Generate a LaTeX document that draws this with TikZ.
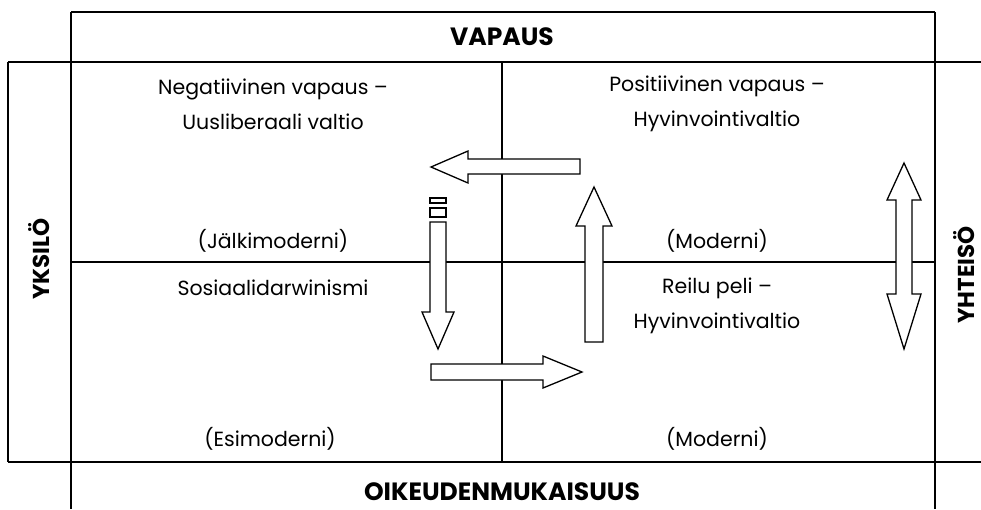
\documentclass[tikz,border=0pt]{standalone}
\usepackage{fontspec}
\setmainfont{Poppins}
\usetikzlibrary{positioning}

\tikzset{
  rule/.style={line width=1.8pt},
  blockarrow/.style={draw, fill=white, line width=1.3pt, line join=miter},
  celltext/.style={font=\fontsize{20.5}{35}\selectfont, align=center, inner sep=0pt},
  axistext/.style={font=\fontsize{25}{30}\selectfont\bfseries, inner sep=0pt},
  sidetext/.style={axistext, font=\fontsize{23}{28}\selectfont\bfseries, rotate=90}
}

\begin{document}
\begin{tikzpicture}[x=1pt,y=-1pt]
		\useasboundingbox (0,0) rectangle (981,509);
		% table frame
		\draw[rule] (71,12) -- (935,12);
		\draw[rule] (8,62) -- (981,62);
		\draw[rule] (8,462) -- (981,462);
		\draw[rule] (8,62) -- (8,462);
		\draw[rule] (71,12) -- (71,509);
		\draw[rule] (935,12) -- (935,509);
		\draw[rule] (502,62) -- (502,462);
		\draw[rule] (71,262) -- (935,262);
		% axis titles
		\node[axistext] (vapaus) at (502,37) {VAPAUS};
		\node[axistext] (oikeus) at (502,492) {OIKEUDENMUKAISUUS};
		\node[sidetext] (yksilo) at (39,259) {YKSILÖ};
		\node[sidetext] (yhteiso) at (964,275) {YHTEISÖ};
		% cell texts
		\node[celltext] (negvap) at (273,104) {Negatiivinen vapaus –\\Uusliberaali valtio};
		\node[celltext] (posvap) at (717,104) {Positiivinen vapaus –\\Hyvinvointivaltio};
		\node[celltext] (jalki) at (273,241) {(Jälkimoderni)};
		\node[celltext] (moderni1) at (717,241) {(Moderni)};
		\node[celltext] (sosdar) at (273,288) {Sosiaalidarwinismi};
		\node[celltext] (reilu) at (717,306) {Reilu peli –\\Hyvinvointivaltio};
		\node[celltext] (esimod) at (270,439) {(Esimoderni)};
		\node[celltext] (moderni2) at (717,439) {(Moderni)};
		% block arrows
		\draw[blockarrow] (580,159) -- (468,159) -- (468,151) -- (431,167) -- (468,183) -- (468,174) -- (580,174) -- cycle;
		\draw[blockarrow] (430,198) rectangle (446,203);
		\draw[blockarrow] (430,208) rectangle (446,217);
		\draw[blockarrow] (430,222) -- (430,312) -- (422,312) -- (438,349) -- (454,312) -- (446,312) -- (446,222) -- cycle;
		\draw[blockarrow] (585,342) -- (585,226) -- (576,226) -- (594,187) -- (612,226) -- (603,226) -- (603,342) -- cycle;
		\draw[blockarrow] (431,364) -- (543,364) -- (543,356) -- (582,372) -- (543,388) -- (543,380) -- (431,380) -- cycle;
		\draw[blockarrow] (904,163) -- (921,200) -- (912,200) -- (912,294) -- (921,294) -- (904,349) -- (887,294) -- (896,294) -- (896,200) -- (887,200) -- cycle;
		\end{tikzpicture}
\end{document}
